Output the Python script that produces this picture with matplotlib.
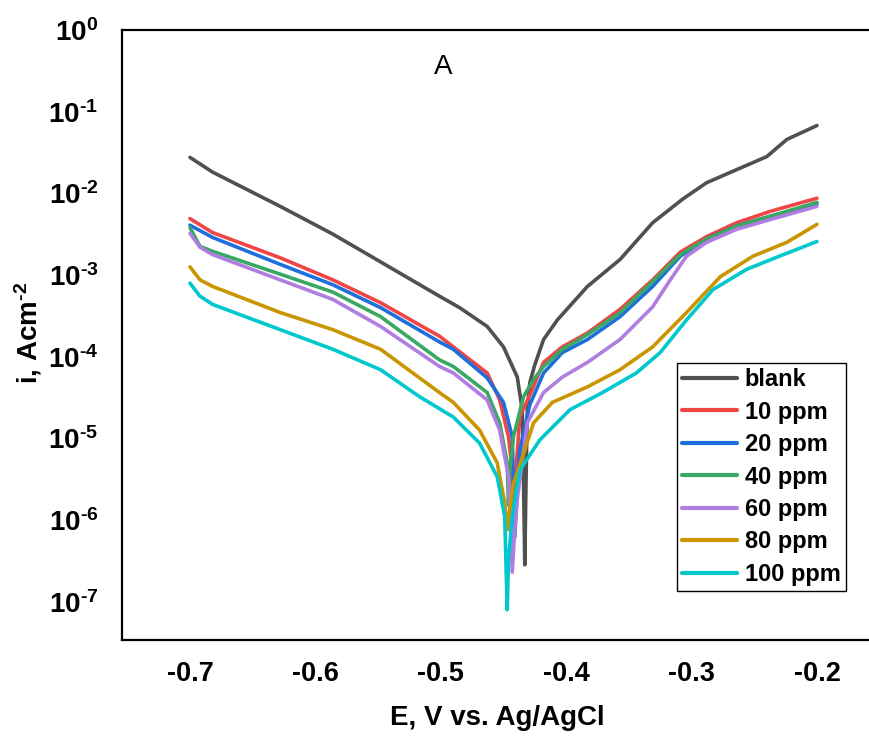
import numpy as np
import matplotlib
matplotlib.use('Agg')
import matplotlib.pyplot as plt

plt.rcParams['font.family'] = ['Liberation Sans', 'DejaVu Sans']
plt.rcParams['mathtext.fontset'] = 'custom'
plt.rcParams['mathtext.rm'] = 'Liberation Sans:bold'
plt.rcParams['mathtext.bf'] = 'Liberation Sans:bold'
plt.rcParams['mathtext.default'] = 'bf'

# E (V vs Ag/AgCl) and log10 of current density
blank_E = [-0.700, -0.682, -0.628, -0.586, -0.501, -0.485, -0.463, -0.450, -0.439, -0.435, -0.434, -0.433,
           -0.432, -0.431, -0.429, -0.425, -0.418, -0.407, -0.383, -0.357, -0.331, -0.307, -0.288, -0.264,
           -0.240, -0.224, -0.200]
blank_logi = [-1.56, -1.74, -2.16, -2.50, -3.26, -3.40, -3.63, -3.88, -4.25, -4.65, -5.51, -6.55,
              -5.51, -4.65, -4.32, -4.10, -3.79, -3.55, -3.14, -2.81, -2.36, -2.07, -1.87, -1.71,
              -1.55, -1.34, -1.17]

ppm10_E = [-0.700, -0.682, -0.628, -0.586, -0.548, -0.501, -0.490, -0.463, -0.453, -0.446, -0.443, -0.442,
           -0.440, -0.437, -0.429, -0.418, -0.403, -0.383, -0.357, -0.331, -0.309, -0.288, -0.264, -0.237, -0.200]
ppm10_logi = [-2.31, -2.48, -2.79, -3.06, -3.34, -3.75, -3.88, -4.20, -4.53, -4.98, -5.39, -6.00,
              -5.39, -4.74, -4.47, -4.07, -3.88, -3.71, -3.42, -3.06, -2.72, -2.53, -2.36, -2.22, -2.06]

ppm20_E = [-0.700, -0.682, -0.628, -0.586, -0.548, -0.501, -0.490, -0.463, -0.450, -0.443, -0.442, -0.441,
           -0.439, -0.437, -0.429, -0.418, -0.403, -0.383, -0.357, -0.331, -0.309, -0.288, -0.264, -0.237, -0.200]
ppm20_logi = [-2.39, -2.54, -2.87, -3.12, -3.40, -3.82, -3.91, -4.26, -4.56, -4.98, -5.55, -6.21,
              -5.63, -5.14, -4.59, -4.20, -3.95, -3.79, -3.51, -3.14, -2.77, -2.56, -2.40, -2.28, -2.13]

ppm40_E = [-0.700, -0.692, -0.682, -0.628, -0.586, -0.548, -0.501, -0.490, -0.463, -0.453, -0.447, -0.446,
           -0.445, -0.442, -0.434, -0.426, -0.418, -0.403, -0.383, -0.357, -0.331, -0.309, -0.288, -0.264,
           -0.237, -0.200]
ppm40_logi = [-2.42, -2.65, -2.71, -2.99, -3.21, -3.51, -4.04, -4.12, -4.44, -4.81, -5.30, -5.82,
              -5.39, -4.98, -4.49, -4.28, -4.12, -3.91, -3.73, -3.46, -3.08, -2.75, -2.56, -2.40,
              -2.28, -2.11]

ppm60_E = [-0.700, -0.692, -0.682, -0.628, -0.586, -0.548, -0.501, -0.490, -0.463, -0.453, -0.446, -0.443,
           -0.441, -0.439, -0.431, -0.418, -0.403, -0.383, -0.357, -0.331, -0.317, -0.304, -0.288, -0.264,
           -0.237, -0.200]
ppm60_logi = [-2.49, -2.66, -2.75, -3.06, -3.30, -3.63, -4.12, -4.20, -4.53, -4.90, -5.47, -6.64,
              -6.12, -5.75, -4.81, -4.44, -4.25, -4.07, -3.79, -3.39, -3.06, -2.77, -2.60, -2.44,
              -2.32, -2.16]

ppm80_E = [-0.700, -0.692, -0.682, -0.628, -0.586, -0.548, -0.501, -0.490, -0.469, -0.455, -0.449, -0.447,
           -0.445, -0.442, -0.437, -0.426, -0.411, -0.383, -0.357, -0.331, -0.304, -0.277, -0.251, -0.224, -0.200]
ppm80_logi = [-2.90, -3.06, -3.14, -3.46, -3.67, -3.91, -4.44, -4.56, -4.90, -5.30, -5.79, -6.12,
              -5.88, -5.55, -5.33, -4.81, -4.56, -4.37, -4.16, -3.88, -3.46, -3.02, -2.77, -2.60, -2.38]

ppm100_E = [-0.700, -0.692, -0.682, -0.628, -0.586, -0.548, -0.517, -0.490, -0.469, -0.455, -0.449, -0.447,
            -0.446, -0.443, -0.437, -0.421, -0.397, -0.371, -0.344, -0.325, -0.304, -0.283, -0.256, -0.230, -0.200]
ppm100_logi = [-3.10, -3.26, -3.36, -3.67, -3.91, -4.16, -4.49, -4.74, -5.06, -5.47, -5.96, -7.10,
               -6.49, -5.96, -5.39, -5.02, -4.65, -4.44, -4.20, -3.95, -3.55, -3.18, -2.93, -2.77, -2.59]

labels = ['blank', '10 ppm', '20 ppm', '40 ppm', '60 ppm', '80 ppm', '100 ppm']
colors = ['#505050', '#F04545', '#1E6FDC', '#38A862', '#B07DE0', '#C99500', '#00C8CC']
series = [(blank_E, blank_logi), (ppm10_E, ppm10_logi), (ppm20_E, ppm20_logi),
          (ppm40_E, ppm40_logi), (ppm60_E, ppm60_logi), (ppm80_E, ppm80_logi),
          (ppm100_E, ppm100_logi)]

fig = plt.figure(figsize=(8.7, 7.43), dpi=100)
ax = fig.add_axes([122/870, 103/743, 748/870, 610/743])

for (E, logi), lab, col in zip(series, labels, colors):
    ax.plot(E, 10**np.array(logi), color=col, lw=2.6, label=lab, solid_capstyle='round')

ax.set_yscale('log')
ax.set_xlim(-0.7542, -0.1577)
ax.set_ylim(10**-7.47, 1)

xt = [-0.7, -0.6, -0.5, -0.4, -0.3, -0.2]
ax.set_xticks(xt)
ax.set_xticklabels(['%.1f' % v for v in xt], fontsize=19.5, fontweight='bold')
yexp = list(range(0, -8, -1))
ax.set_yticks([10.0**k for k in yexp])
ax.set_yticklabels([r'$10^{\text{%d}}$' % k for k in yexp], fontsize=20)
ax.minorticks_off()
ax.tick_params(axis='x', length=0, pad=15)
ax.tick_params(axis='y', length=0, pad=17)

for s in ['left', 'bottom', 'top']:
    ax.spines[s].set_linewidth(1.6)
ax.spines['right'].set_visible(False)

ax.set_xlabel('E, V vs. Ag/AgCl', fontsize=20, fontweight='bold')
ax.xaxis.set_label_coords((497 - 122) / 748, -(705 - 640) / 610)
ax.set_ylabel(r'i, Acm$^{\text{-2}}$', fontsize=20, fontweight='bold')
ax.yaxis.set_label_coords(-(122 - 44) / 748, (640 - 333) / 610)

ax.text(-0.498, 10**-0.45, 'A', fontsize=20, ha='center', va='center')

leg = ax.legend(loc='upper left', bbox_to_anchor=(677/870, 1 - 363/743),
                bbox_transform=fig.transFigure, prop={'size': 17, 'weight': 'bold'},
                frameon=True, fancybox=False, edgecolor='black', framealpha=1,
                handlelength=2.3, handletextpad=0.35, labelspacing=0.4,
                borderpad=0.22, borderaxespad=0)
leg.get_frame().set_linewidth(1.0)
for h in leg.get_lines():
    h.set_linewidth(3)

fig.savefig('out.png', dpi=100)
